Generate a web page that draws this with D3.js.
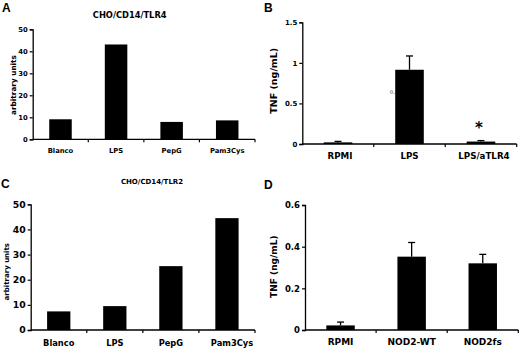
<!DOCTYPE html>
<html><head><meta charset="utf-8">
<script src="https://cdn.jsdelivr.net/npm/d3@7"></script>
<style>
body{margin:0;background:#fff;}
svg{display:block;}
text{font-family:"DejaVu Sans",Verdana,sans-serif;font-weight:bold;fill:#000;}
.letter{font-family:"Liberation Sans",Arial,sans-serif;font-weight:bold;}
</style></head>
<body>
<script>
// ---- data ----
const catsA = ["Blanco","LPS","PepG","Pam3Cys"];
const valsA = [9.1, 43.1, 7.9, 8.6];
const ticksA = [0,10,20,30,40,50];

const catsB = ["RPMI","LPS","LPS/aTLR4"];
const valsB = [0.02, 0.915, 0.03];
const errB = [0.012, 0.17, 0.012];
const ticksB = [0,0.5,1,1.5];

const catsC = ["Blanco","LPS","PepG","Pam3Cys"];
const valsC = [7.4, 9.5, 25.4, 44.5];
const ticksC = [0,10,20,30,40,50];

const catsD = ["RPMI","NOD2-WT","NOD2fs"];
const valsD = [0.022, 0.352, 0.32];
const errD = [0.016, 0.068, 0.043];
const ticksD = [0,0.2,0.4,0.6];

const svg = d3.select("body").append("svg").attr("width",520).attr("height",349);

function panel(o){
  const g = svg.append("g");
  const x = d3.scaleBand().domain(o.cats).range([o.x0,o.x1]).padding(0);
  const y = d3.scaleLinear().domain([0,o.ymax]).range([o.y0,o.y1]);
  const bw = x.bandwidth()*o.barFrac;
  // bars
  g.selectAll("rect.bar").data(o.vals).enter().append("rect")
    .attr("x",(d,i)=>x(o.cats[i])+x.bandwidth()/2-bw/2)
    .attr("width",bw)
    .attr("y",d=>y(d))
    .attr("height",d=>y(0)-y(d))
    .attr("fill","#000");
  // error bars
  if(o.errs){
    o.errs.forEach((e,i)=>{
      const cx = x(o.cats[i])+x.bandwidth()/2;
      g.append("line").attr("x1",cx).attr("x2",cx)
        .attr("y1",y(o.vals[i])).attr("y2",y(o.vals[i]+e))
        .attr("stroke","#000").attr("stroke-width",1.3);
      g.append("line").attr("x1",cx-3.5).attr("x2",cx+3.5)
        .attr("y1",y(o.vals[i]+e)).attr("y2",y(o.vals[i]+e))
        .attr("stroke","#000").attr("stroke-width",1.3);
    });
  }
  // y axis
  const ya = g.append("g").attr("transform",`translate(${o.x0},0)`)
    .call(d3.axisLeft(y).tickValues(o.ticks).tickSize(3).tickPadding(2).tickFormat(d3.format("")));
  ya.select(".domain").attr("stroke","#000").attr("stroke-width",1.3);
  ya.selectAll(".tick line").attr("stroke","#000").attr("stroke-width",1.2);
  ya.selectAll("text").attr("font-size",o.ytfs).attr("font-family","DejaVu Sans").attr("font-weight","bold").attr("fill","#000");
  // x axis
  const xa = g.append("g").attr("transform",`translate(0,${o.y0})`);
  xa.append("line").attr("x1",o.x0).attr("x2",o.x1).attr("y1",0).attr("y2",0)
    .attr("stroke","#000").attr("stroke-width",1.3);
  o.cats.forEach((c,i)=>{
    const bx = x(c)+x.bandwidth();
    xa.append("line").attr("x1",bx).attr("x2",bx).attr("y1",0).attr("y2",3)
      .attr("stroke","#000").attr("stroke-width",1.2);
    xa.append("text").attr("x",x(c)+x.bandwidth()/2+(o.lblShift?o.lblShift[i]:0)).attr("y",o.xlblOff)
      .attr("text-anchor","middle").attr("font-size",o.xtfs).text(c);
  });
  // y label
  g.append("text").attr("transform",`translate(${o.ylx},${o.yly}) rotate(-90)`)
    .attr("text-anchor","middle").attr("font-size",o.ylfs).text(o.ylabel);
  if(o.title){
    g.append("text").attr("x",o.tx).attr("y",o.ty).attr("text-anchor","middle")
      .attr("font-size",o.tfs).text(o.title);
  }
  g.append("text").attr("class","letter").attr("x",o.lx).attr("y",o.ly)
    .attr("font-size",12).text(o.letter);
  return {x,y,g};
}

panel({cats:catsA,vals:valsA,ticks:ticksA,ymax:50,x0:32.7,x1:255,y0:139.3,y1:29.3,barFrac:0.405,
  ytfs:6.8,xtfs:6.8,xlblOff:14,ylabel:"arbitrary units",ylx:15.5,yly:85,ylfs:7.3,
  title:"CHO/CD14/TLR4",tx:129.7,ty:18.3,tfs:8.3,letter:"A",lx:2,ly:11.5});

const pB = panel({cats:catsB,vals:valsB,errs:errB,ticks:ticksB,ymax:1.5,x0:302.3,x1:516.7,y0:144,y1:22.3,barFrac:0.4,
  ytfs:7,xtfs:8.7,xlblOff:15.3,ylabel:"TNF (ng/mL)",ylx:277.3,yly:80.8,ylfs:9.5,
  lblShift:[2,0,3],letter:"B",lx:264,ly:11.5});
// asterisk over LPS/aTLR4
pB.g.append("text").attr("x",pB.x("LPS/aTLR4")+pB.x.bandwidth()/2-2).attr("y",pB.y(0.04)-8)
  .attr("text-anchor","middle").attr("font-size",15).text("*");
// stray label remnant
pB.g.append("text").attr("x",pB.x("LPS")+16).attr("y",pB.y(0.62)).attr("font-size",5)
  .attr("font-weight","normal").style("fill","#999").text("0.");

panel({cats:catsC,vals:valsC,ticks:ticksC,ymax:50,x0:30.7,x1:255,y0:330,y1:204.3,barFrac:0.415,
  ytfs:9.3,xtfs:8.3,xlblOff:15.5,ylabel:"arbitrary units",ylx:8.6,yly:271.7,ylfs:7,
  lblShift:[0,0,0,5],title:"CHO/CD14/TLR2",tx:152,ty:184,tfs:7,letter:"C",lx:1,ly:188});

panel({cats:catsD,vals:valsD,errs:errD,ticks:ticksD,ymax:0.6,x0:305,x1:518.3,y0:330,y1:205,barFrac:0.4,
  ytfs:8.5,xtfs:9,xlblOff:15,ylabel:"TNF (ng/mL)",ylx:277.3,yly:266.7,ylfs:9,
  letter:"D",lx:264,ly:188.5});
</script>
</body></html>
